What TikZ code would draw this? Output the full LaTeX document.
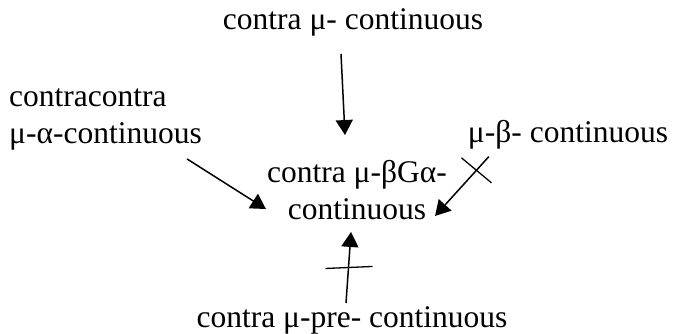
\documentclass[tikz,border=0pt]{standalone}
\usepackage{fontspec}
\setmainfont{Liberation Serif}
\usetikzlibrary{arrows.meta}
\tikzset{
  lbl/.style={inner sep=0pt,font=\fontsize{31.5}{37}\selectfont},
  arr/.style={line width=1.5pt,-{Triangle[length=15pt,width=17pt]}},
  tick/.style={line width=1.3pt}
}
\begin{document}
\begin{tikzpicture}[x=1pt,y=-1pt]
\useasboundingbox (0,0) rectangle (675,333);
\node[lbl] (mu) at (353,22) {contra μ- continuous};
\node[lbl,align=center] (bga) at (357,190) {contra μ-βGα-\\continuous};
\node[lbl,align=left,anchor=west] (alpha) at (9,119) {contracontra\\μ-α-continuous};
\node[lbl] (beta) at (568,135) {μ-β- continuous};
\node[lbl] (pre) at (352,320) {contra μ-pre- continuous};
\draw[arr] ([shift={(-12,18)}]mu.south) -- ([shift={(-12,-25)}]bga.north);
\draw[arr] ([shift={(-15,9)}]alpha.south east) -- ([shift={(-1,19)}]bga.west);
\draw[arr] ([shift={(21,7)}]beta.south west) -- coordinate[pos=.23] (cutr) ([shift={(-12,-4)}]bga.south east);
\draw[arr] ([shift={(-6,-3)}]pre.north) -- coordinate[pos=.5] (cutb) ([shift={(-6,12)}]bga.south);
% strokes across the two arrows
\draw[tick] ([shift={(-15,-12.5)}]cutr) -- ([shift={(15,12.5)}]cutr);
\draw[tick] ([shift={(-23,1)}]cutb) -- ([shift={(24,-1)}]cutb);
\end{tikzpicture}
\end{document}
